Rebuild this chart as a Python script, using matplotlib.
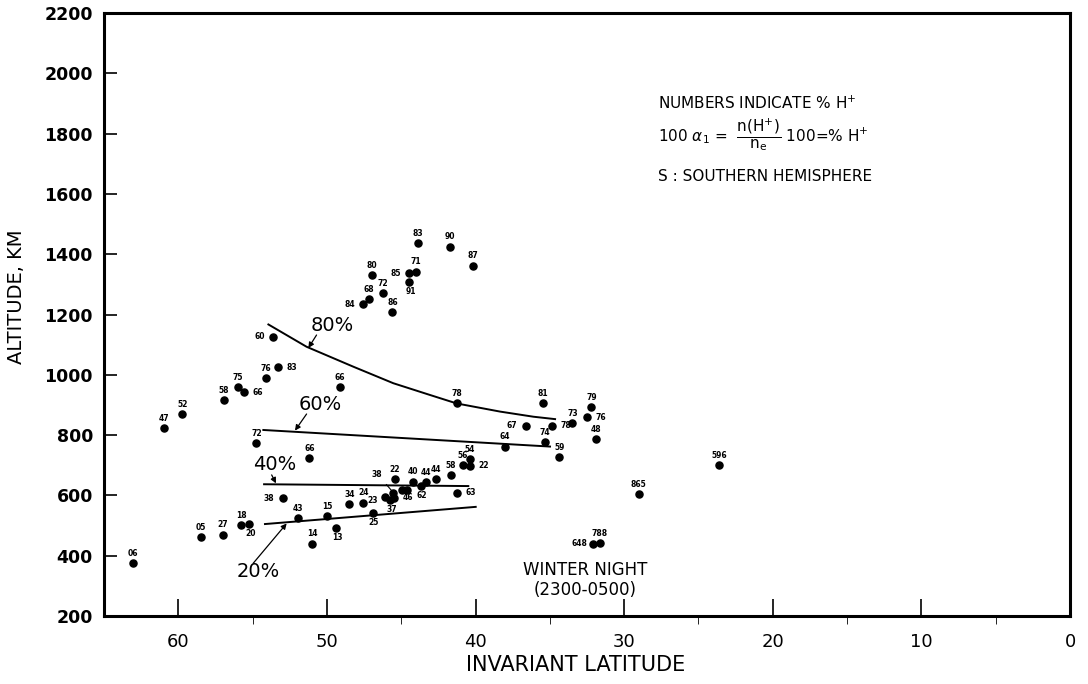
import matplotlib
matplotlib.use("Agg")
import matplotlib.pyplot as plt

plt.rcParams['font.family'] = ['DejaVu Sans']
plt.rcParams['mathtext.fontset'] = 'dejavusans'

# observations: invariant latitude, altitude (km), % H+ label
lats = [43.9, 41.7, 40.15, 44.0, 44.45, 44.45, 46.95, 46.25, 47.15, 47.55, 45.6,
        53.6, 53.3, 54.1, 55.98, 55.56, 56.93, 59.73, 60.96, 49.15, 54.75, 51.19,
        41.27, 35.48, 32.21, 33.49, 32.5, 34.86, 36.6, 35.31, 38.02, 34.37, 31.92,
        40.37, 40.87, 40.37, 41.65, 42.69, 43.36, 44.19, 43.69, 44.97, 44.6, 45.53,
        45.5, 45.75, 46.09, 45.42, 41.23, 29.02, 23.62, 31.66, 32.08,
        63.03, 58.5, 57.0, 55.78, 55.22, 52.98, 51.97, 49.97, 50.99, 49.42,
        48.49, 47.55, 46.93]
alts = [1436, 1425, 1362, 1342, 1337, 1309, 1331, 1270, 1250, 1234, 1207,
        1126, 1025, 989, 960, 942, 916, 869, 823, 960, 773, 723,
        905, 907, 894, 839, 859, 831, 831, 776, 762, 728, 786,
        721, 701, 698, 668, 654, 645, 646, 631, 618, 618, 609,
        592, 585, 596, 653, 609, 604, 701, 441, 439,
        375, 461, 470, 502, 505, 590, 525, 531, 440, 493,
        570, 576, 541]
pct = ["83", "90", "87", "71", "85", "91", "80", "72", "68", "84", "86",
       "60", "83", "76", "75", "66", "58", "52", "47", "66", "72", "66",
       "78", "81", "79", "73", "76", "78", "67", "74", "64", "59", "48",
       "54", "56", "22", "58", "44", "44", "40", "62", "", "", "",
       "46", "37", "23", "22", "63", "865", "596", "788", "648",
       "06", "05", "27", "18", "20", "38", "43", "15", "14", "13",
       "34", "24", "25"]
side = ["a", "a", "a", "a", "l", "b", "a", "a", "a", "l", "a",
        "l", "r", "a", "a", "r", "a", "a", "a", "a", "a", "a",
        "a", "a", "a", "a", "r", "r", "l", "a", "a", "a", "a",
        "a", "a", "r", "a", "a", "a", "a", "b", "a", "a", "a",
        "r", "b", "bl", "a", "r", "a", "a", "a", "l",
        "a", "a", "a", "a", "b", "l", "a", "a", "a", "b",
        "a", "a", "b"]

# constant % H+ contours
c80_lat = [53.94, 51.37, 48.23, 45.53, 43.06, 41.27, 38.35, 36.11, 34.65]
c80_alt = [1167, 1093, 1027, 972, 933, 905, 878, 861, 853]
c60_lat = [54.28, 34.99]
c60_alt = [817, 762]
c40_lat = [54.23, 40.49]
c40_alt = [637, 631]
c20_lat = [54.17, 39.99]
c20_alt = [505, 562]

fig = plt.figure(figsize=(10.88, 6.84), dpi=100)
ax = fig.add_axes([0.0956, 0.0994, 0.8879, 0.8816])

ax.scatter(lats, alts, s=26, color='black', zorder=3)

offs = {'a': (0, 7), 'b': (1, -7), 'l': (-10, 0), 'r': (10, 0), 'bl': (-9, -3)}
for x, y, t, s in zip(lats, alts, pct, side):
    if t:
        ax.annotate(t, (x, y), xytext=offs[s], textcoords='offset points',
                    ha='center', va='center', fontsize=5.5, fontweight='bold')

for cx, cy in [(c80_lat, c80_alt), (c60_lat, c60_alt), (c40_lat, c40_alt), (c20_lat, c20_alt)]:
    ax.plot(cx, cy, color='black', lw=1.4)

arr = dict(arrowstyle='-|>', color='black', lw=0.9, mutation_scale=8, shrinkA=0, shrinkB=0)
ax.text(49.65, 1165, "80%", fontsize=14, ha='center', va='center')
ax.annotate('', xy=(51.25, 1089), xytext=(50.7, 1132), arrowprops=arr)
ax.text(50.46, 900, "60%", fontsize=14, ha='center', va='center')
ax.annotate('', xy=(52.15, 815), xytext=(51.37, 870), arrowprops=arr)
ax.text(53.5, 701, "40%", fontsize=14, ha='center', va='center')
ax.annotate('', xy=(53.43, 640), xytext=(53.72, 668), arrowprops=arr)
ax.text(54.6, 346, "20%", fontsize=14, ha='center', va='center')
ax.annotate('', xy=(52.71, 507), xytext=(54.96, 375), arrowprops=arr)
ax.annotate("38", xy=(45.58, 612), xytext=(46.61, 671), fontsize=5.5, fontweight='bold',
            ha='center', va='center', arrowprops=dict(arrowstyle='-', color='black', lw=0.8,
                                                      shrinkA=3, shrinkB=1))

ax.text(27.72, 1901, "NUMBERS INDICATE % H$^{+}$", fontsize=11, ha='left', va='center')
ax.text(27.72, 1795, r"100 $\alpha_1$ =  $\dfrac{\mathrm{n(H^{+})}}{\mathrm{n_e}}$ 100=% H$^{+}$",
        fontsize=11, ha='left', va='center')
ax.text(27.72, 1659, "S : SOUTHERN HEMISPHERE", fontsize=11, ha='left', va='center')
ax.text(32.6, 353, "WINTER NIGHT", fontsize=12, ha='center', va='center')
ax.text(32.6, 285, "(2300-0500)", fontsize=12, ha='center', va='center')

ax.set_xlim(65, 0)
ax.set_ylim(200, 2200)
ax.set_xticks(range(60, -1, -10))
ax.set_xticks(range(55, 0, -10), minor=True)
ax.set_yticks(range(200, 2201, 200))
ax.tick_params(axis='both', direction='in', width=1.2)
ax.tick_params(axis='x', which='major', length=12, pad=12, labelsize=13)
ax.tick_params(axis='x', which='minor', length=6)
ax.tick_params(axis='y', length=9, pad=8, labelsize=12.5)
for lab in ax.get_yticklabels():
    lab.set_fontweight('bold')
for sp in ax.spines.values():
    sp.set_linewidth(2.2)

ax.set_ylabel("ALTITUDE, KM", fontsize=14)
ax.yaxis.set_label_coords(-0.081, 0.53)
ax.set_xlabel("INVARIANT LATITUDE", fontsize=15)
ax.xaxis.set_label_coords(0.488, -0.065)

fig.savefig("out.png", dpi=100)
